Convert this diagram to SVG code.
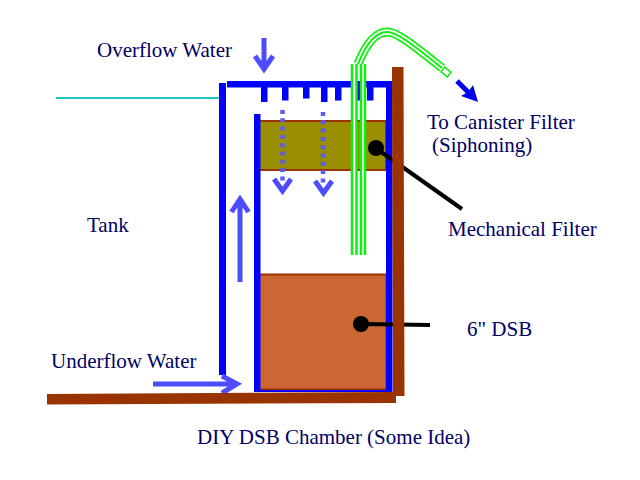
<svg xmlns="http://www.w3.org/2000/svg" width="640" height="480" viewBox="0 0 640 480">
<style>
text{font-family:"Liberation Serif","Times New Roman",serif;font-size:21px;fill:#000066}
.w{fill:#0000ff}
.b{fill:#993300}
.a{fill:none;stroke:#4d4dff;stroke-width:5}
.d{fill:none;stroke:#5c5cf0;stroke-width:4.500;stroke-dasharray:4 4.300}
.k{stroke:#000;fill:none;stroke-width:4}
.t{fill:none;stroke:#11ee11;stroke-width:2.500}
</style>
<rect width="640" height="480" fill="#fff"/>
<g id="tank-water"><path d="M56 98H219" fill="none" stroke="#1cc4c4" stroke-width="2"/></g>
<g id="dsb"><rect x="258.500" y="274.500" width="128" height="115" fill="#cc6633" stroke="#993300" stroke-width="2"/></g>
<g id="mechanical-filter"><rect x="258" y="121" width="128" height="49" fill="#9a8f00" stroke="#993300" stroke-width="2"/></g>
<g id="chamber">
<rect class="w" x="219" y="83" width="7" height="292"/>
<rect class="w" x="227" y="81" width="165" height="6.500"/>
<rect class="w" x="254" y="114" width="6.500" height="278"/>
<rect class="w" x="386" y="81" width="6.500" height="311"/>
<rect class="w" x="258" y="390" width="130" height="2"/>
<rect class="w" x="261" y="87" width="6.500" height="15"/>
<rect class="w" x="282" y="87" width="6.500" height="13.500"/>
<rect class="w" x="303" y="87" width="6.500" height="11.500"/>
<rect class="w" x="321" y="87" width="6.500" height="15"/>
<rect class="w" x="335" y="87" width="6.500" height="13.500"/>
<rect class="w" x="355" y="87" width="6.500" height="13.500"/>
<rect class="w" x="367" y="87" width="6.500" height="13.500"/>
</g>
<g id="siphon">
<path d="M358 64C366 44 376 32 387 32C397 32 412 44 442 68" fill="none" stroke="#11ee11" stroke-width="9"/>
<path d="M358 64C366 44 376 32 387 32C397 32 412 44 442 68" fill="none" stroke="#fff" stroke-width="5.500"/>
<path d="M358 64C366 44 376 32 387 32C397 32 412 44 442 68" fill="none" stroke="#11ee11" stroke-width="2"/>
<rect x="442" y="69" width="8" height="6" transform="rotate(38 446 72)" fill="#fff" stroke="#11ee11" stroke-width="1.500"/>
<rect x="352" y="64" width="4" height="190" fill="#fff"/>
<rect x="361" y="64" width="4" height="190" fill="#fff"/>
<path class="t" d="M352 64V255M356.500 64V255M361 64V255M365 64V255"/>
</g>
<g id="connectors">
<path class="a" d="M264 38V69M255 56L264 69L273 56"/>
<path d="M457 81L473 97" fill="none" stroke="#0000ee" stroke-width="5"/>
<path d="M478 102L461 96L468 92L473 85Z" fill="#0000ee"/>
<path class="d" d="M282.500 110V184"/>
<path class="a" d="M274 179L282.500 191L291 179" stroke-width="6"/>
<path class="d" d="M323 112V184"/>
<path class="a" d="M315 181L323.500 193L332 181" stroke-width="6"/>
<path class="a" d="M240 282V200M231.500 212L240 199L248.500 212"/>
<path class="a" d="M153 384H236M222 376L237 384L222 393"/>
<path class="k" d="M377 149L462 209"/>
<path class="k" d="M361 324L430 325"/>
<circle cx="376" cy="148" r="8"/>
<circle cx="361" cy="324" r="8"/>
</g>
<g id="wall">
<path class="b" d="M392 67H403.500L404.500 396H396V403L47 404.500V394L393 392Z"/>
</g>
<g id="labels">
<text x="97" y="57">Overflow Water</text>
<text x="427" y="129">To Canister Filter</text>
<text x="432" y="152">(Siphoning)</text>
<text x="87" y="232">Tank</text>
<text x="448" y="236">Mechanical Filter</text>
<text x="467" y="336">6" DSB</text>
<text x="51" y="368">Underflow Water</text>
<text x="197" y="444">DIY DSB Chamber (Some Idea)</text>
</g>
</svg>
